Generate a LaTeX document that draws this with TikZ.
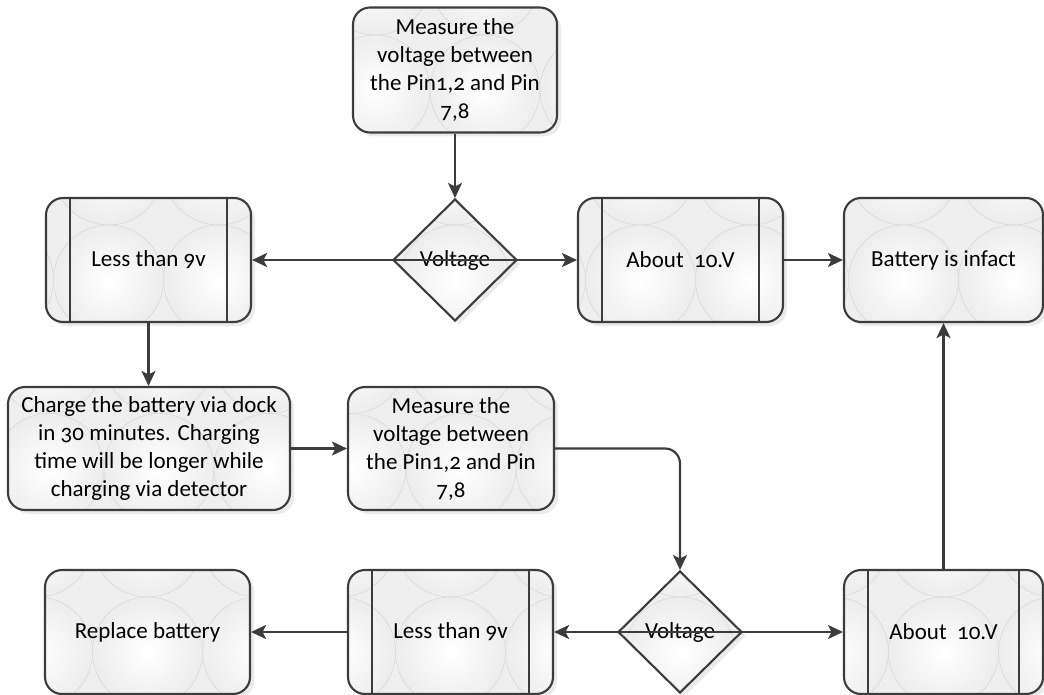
\documentclass[tikz,border=0pt]{standalone}
\usepackage{fontspec}
\setmainfont{Carlito}[Numbers=OldStyle]
\usetikzlibrary{shapes.geometric,arrows.meta,calc,shadows}

\definecolor{edge}{HTML}{3C3C3C}
\definecolor{tint}{HTML}{EFEFEF}
\definecolor{arc}{HTML}{D6D6D6}

\tikzset{
  bubbles/.style={path picture={
      \fill[tint] (path picture bounding box.south west) rectangle (path picture bounding box.north east);
      \foreach \i in {-4,...,4}{
        \foreach \j in {-2,...,2}{
          \shadedraw[inner color=white, outer color=white!93!black, draw=arc, line width=0.5pt]
            ($(path picture bounding box.center)+(\i*110+#1,\j*110+20)$) circle[radius=55];
        }
      }
  }},
  bubbles/.default=0,
  base/.style={draw=edge, line width=2.1pt, text=black, align=center, inner sep=2pt,
    font=\fontsize{23}{28}\selectfont,
    drop shadow={shadow xshift=4pt, shadow yshift=-4pt, fill=black, opacity=0.08}},
  stepbox/.style={base, bubbles=#1, rectangle, rounded corners=17pt,
    minimum height=124pt},
  stepbox/.default=0,
  choice/.style={base, bubbles=0, shape=diamond, aspect=1, inner sep=0pt,
    minimum width=124pt, minimum height=122pt},
  conn/.style={draw=edge, line width=2.2pt, -{Stealth[length=15pt,width=14pt,inset=3.5pt]}},
  bar/.style={draw=edge, line width=2.1pt},
}

\begin{document}
\begin{tikzpicture}[x=1pt,y=-1pt]
\useasboundingbox (0,0) rectangle (1044,695);

% top row
\node[stepbox=30, minimum width=204pt, minimum height=125pt] (m1) at (455,70)
  {Measure the\\voltage between\\the Pin1,2 and Pin\\7,8};
\node[choice] (v1) at (455,260) {Voltage};
\node[stepbox=-40, minimum width=205pt] (less1) at (148.5,260) {Less than 9v};
\node[stepbox=-40, minimum width=205pt] (about1) at (680.5,260) {About\ \ 10.V};
\node[stepbox=-40, minimum width=199pt] (bat) at (943.5,260) {Battery is infact};

% middle row
\node[stepbox=10, minimum width=282pt, minimum height=123pt] (charge) at (149,448.5)
  {Charge the battery via dock\\in 30 minutes. Charging\\time will be longer while\\charging via detector};
\node[stepbox=10, minimum width=206pt, minimum height=123pt] (m2) at (451,448.5)
  {Measure the\\voltage between\\the Pin1,2 and Pin\\7,8};

% bottom row
\node[choice] (v2) at (680,632) {Voltage};
\node[stepbox=0, minimum width=205pt] (repl) at (147.5,632) {Replace battery};
\node[stepbox=0, minimum width=205pt] (less2) at (450.5,632) {Less than 9v};
\node[stepbox=0, minimum width=199pt] (about2) at (943.5,632) {About\ \ 10.V};

% inner bars of the process boxes
\foreach \n in {less1,about1,less2,about2}{
  \draw[bar] ([xshift=25pt]\n.north west) -- ([xshift=25pt]\n.south west);
  \draw[bar] ([xshift=-25pt]\n.north east) -- ([xshift=-25pt]\n.south east);
}

% connectors
\draw[conn] (m1.south) -- (v1.north);
\draw[conn] (v1.center) -- (less1.east);
\draw[conn] (v1.center) -- (about1.west);
\draw[conn] (about1.east) -- (bat.west);
\draw[conn] (less1.south) -- (less1.south |- charge.north);
\draw[conn] (charge.east) -- (m2.west);
\draw[conn, rounded corners=15pt] (m2.east) -| (v2.north);
\draw[conn] (v2.center) -- (less2.east);
\draw[conn] (v2.center) -- (about2.west);
\draw[conn] (less2.west) -- (repl.east);
\draw[conn] (about2.north) -- (bat.south);
\end{tikzpicture}
\end{document}
